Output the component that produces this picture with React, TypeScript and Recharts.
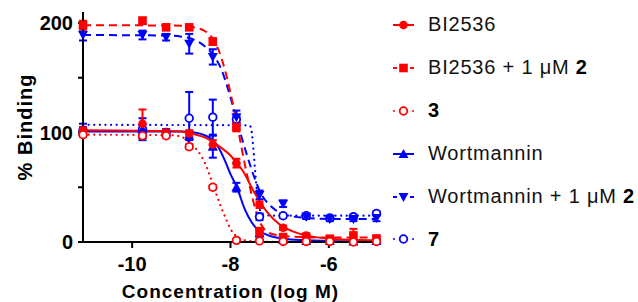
import React from 'react';
import { ComposedChart, Line, Scatter, XAxis, YAxis, ErrorBar, Label } from 'recharts';

const RED = '#FF0000';
const BLUE = '#0000FF';
const FONT = '"Liberation Sans", Arial, Helvetica, sans-serif';

// log concentrations (first point = vehicle control, drawn at the axis)
const CONC = [-11, -9.79, -9.31, -8.84, -8.36, -7.88, -7.41, -6.93, -6.46, -5.98, -5.5, -5.03];

const BI2536 = [102, 108, 100, 99, 89, 72, 34, 13, 6, 2, 1, 1];
const BI2536_ERR = [3, 13, 3, 3, 4, 4, 3, 2, 2, 1, 1, 1];
const BI2536_P2 = [198, 202, 196, 196, 183, 105, 9, 4.5, 4, 3, 6, 3];
const BI2536_P2_ERR = [4, 3, 2, 2, 3, 4, 4, 2, 2, 2, 6, 3];
const CMPD3 = [98, 97, 97, 87, 50, 1.5, 1, 0.5, 0.5, 0.5, 0, 0.5];
const CMPD3_ERR = [2, 2, 2, 2, 2, 1, 1, 0.5, 0.5, 0.5, 0, 0.5];
const WORT = [101, 103, 100, 97, 87, 50, 8, 2, 1, 1, 0.5, 1];
const WORT_ERR = [3, 10, 3, 4, 10, 4, 3, 1, 1, 1, 0.5, 1];
const WORT_P2 = [189, 189, 187, 181, 169, 114, 43, 35, 23, 21, 21, 22];
const WORT_P2_ERR = [5, 4, 3, 9, 7, 6, 4, 3, 2, 2, 2, 3];
const CMPD7 = [102, 103, 100, 113, 114, 112, 23, 24, 24, 22, 23, 26];
const CMPD7_ERR = [6, 4, 2, 24, 16, 3, 3, 2, 2, 2, 2, 2];

// fitted curves
const BI_CURVE_X = [-11, -9, -8.75, -8.5, -8.25, -8, -7.75, -7.5, -7.25, -7, -6.75, -6.5, -6, -5.5, -5];
const BI_CURVE_Y = [102, 101, 98.5, 95, 88, 79, 65, 44, 27, 16, 10, 6.5, 3, 2, 1.5];
const BI2_CURVE_X = [-11, -9, -8.75, -8.5, -8.35, -8.25, -8.1, -8, -7.9, -7.8, -7.7, -7.6, -7.5, -7.4, -7.3, -7.2, -7, -6.5, -6, -5];
const BI2_CURVE_Y = [198, 197.5, 196, 192, 185, 176, 155, 136, 115, 92, 69, 49, 31, 18, 11, 8, 6, 4.5, 4, 4];
const C3_CURVE_X = [-11, -9.2, -9, -8.85, -8.72, -8.6, -8.5, -8.4, -8.3, -8.2, -8.1, -8, -7.9, -7.75, -7.5, -7, -5];
const C3_CURVE_Y = [98, 97.5, 96, 92, 86, 79, 70, 58, 45, 33, 22, 12, 6, 2, 0.5, 0, 0];
const W_CURVE_X = [-11, -9, -8.73, -8.5, -8.36, -8.24, -8.12, -8, -7.87, -7.71, -7.57, -7.44, -7.3, -7.16, -6.9, -6.69, -6, -5];
const W_CURVE_Y = [101, 101, 100, 97, 93, 86, 75, 62, 50, 30, 18, 11, 7.5, 5, 3, 2, 1, 0.5];
const W2_CURVE_X = [-11, -9.3, -9, -8.83, -8.56, -8.34, -8.18, -8.06, -7.95, -7.85, -7.77, -7.67, -7.57, -7.5, -7.4, -7.16, -6.93, -6.48, -6, -5];
const W2_CURVE_Y = [189, 188.5, 187.5, 186, 180, 170, 157, 141, 124, 108, 95, 80, 66, 57, 46, 32, 25.5, 22, 21, 21];
const C7_CURVE_X = [-11, -7.62, -7.58, -7.56, -7.54, -7.52, -7.49, -7.46, -7.42, -7.37, -7.3, -7.1, -5];
const C7_CURVE_Y = [107, 106.5, 104, 97, 88, 77, 60, 45, 33, 26, 24.5, 24, 24];

const X_TICKS = [-10, -8, -6];
const Y_TICKS = [0, 50, 100, 150, 200];

const LEGEND_NAMES = ['BI2536', 'BI2536 + 1 μM ', '', 'Wortmannin', 'Wortmannin + 1 μM ', ''];
const LEGEND_BOLD = ['', '2', '3', '', '2', '7'];

const pts = (vals: number[], errs: number[]) => CONC.map((x, i) => ({ x, y: vals[i], e: errs[i] }));
const curve = (xs: number[], ys: number[]) => xs.map((x, i) => ({ x, y: ys[i] }));

type Marker = 'circle' | 'square' | 'open' | 'up' | 'down';

const drawMarker = (kind: Marker, color: string, cx: number, cy: number, key?: string) => {
  switch (kind) {
    case 'circle':
      return <circle key={key} cx={cx} cy={cy} r={4.3} fill={color} />;
    case 'square':
      return <rect key={key} x={cx - 4.3} y={cy - 4.3} width={8.6} height={8.6} fill={color} />;
    case 'open':
      return <circle key={key} cx={cx} cy={cy} r={3.8} fill="#fff" stroke={color} strokeWidth={1.8} />;
    case 'up':
      return <polygon key={key} points={`${cx - 5},${cy + 4} ${cx + 5},${cy + 4} ${cx},${cy - 5}`} fill={color} />;
    case 'down':
      return <polygon key={key} points={`${cx - 5},${cy - 4} ${cx + 5},${cy - 4} ${cx},${cy + 5}`} fill={color} />;
  }
};

const shapeOf = (kind: Marker, color: string) => (p: any) => drawMarker(kind, color, p.cx, p.cy);

const SERIES = [
  { name: 0, color: RED, marker: 'circle' as Marker, dash: undefined as string | undefined, data: pts(BI2536, BI2536_ERR), curve: curve(BI_CURVE_X, BI_CURVE_Y) },
  { name: 1, color: RED, marker: 'square' as Marker, dash: '8 5', data: pts(BI2536_P2, BI2536_P2_ERR), curve: curve(BI2_CURVE_X, BI2_CURVE_Y) },
  { name: 2, color: RED, marker: 'open' as Marker, dash: '0.1 5.5', data: pts(CMPD3, CMPD3_ERR), curve: curve(C3_CURVE_X, C3_CURVE_Y) },
  { name: 3, color: BLUE, marker: 'up' as Marker, dash: undefined, data: pts(WORT, WORT_ERR), curve: curve(W_CURVE_X, W_CURVE_Y) },
  { name: 4, color: BLUE, marker: 'down' as Marker, dash: '8 5', data: pts(WORT_P2, WORT_P2_ERR), curve: curve(W2_CURVE_X, W2_CURVE_Y) },
  { name: 5, color: BLUE, marker: 'open' as Marker, dash: '0.1 5.5', data: pts(CMPD7, CMPD7_ERR), curve: curve(C7_CURVE_X, C7_CURVE_Y) },
];

const DRAW_ORDER = [5, 3, 4, 0, 1, 2];

const LegendIcon = ({ s }: { s: (typeof SERIES)[number] }) => {
  const dotted = s.dash && s.dash.startsWith('0.1');
  const dashed = s.dash && !dotted;
  return (
    <svg width={26} height={14} style={{ display: 'block' }}>
      {!s.dash && <line x1={2} y1={7} x2={23} y2={7} stroke={s.color} strokeWidth={2} />}
      {dashed && (
        <>
          <line x1={2} y1={7} x2={6} y2={7} stroke={s.color} strokeWidth={2} />
          <line x1={19} y1={7} x2={23} y2={7} stroke={s.color} strokeWidth={2} />
        </>
      )}
      {dotted && (
        <>
          <circle cx={3} cy={7} r={1} fill={s.color} />
          <circle cx={22} cy={7} r={1} fill={s.color} />
        </>
      )}
      {drawMarker(s.marker, s.color, 12.5, 7)}
    </svg>
  );
};

export default function App() {
  return (
    <div style={{ position: 'relative', width: 638, height: 302, background: '#fff' }}>
      <style>{'body{margin:0;background:#fff}'}</style>
      <ComposedChart width={638} height={302} margin={{ top: 12, right: 260, bottom: 0, left: 0 }}>
        <XAxis
          type="number"
          dataKey="x"
          domain={[-11, -5]}
          ticks={X_TICKS}
          allowDuplicatedCategory={false}
          height={60}
          axisLine={{ stroke: '#000', strokeWidth: 2 }}
          tickLine={{ stroke: '#000', strokeWidth: 2 }}
          tickSize={6}
          tickMargin={9}
          tick={{ fill: '#000', fontSize: 20, fontWeight: 'bold', fontFamily: FONT }}
        >
          <Label
            value="Concentration (log M)"
            position="insideBottom"
            offset={4}
            fill="#000"
            fontSize={19}
            fontWeight="bold"
            fontFamily={FONT}
            letterSpacing={1}
          />
        </XAxis>
        <YAxis
          type="number"
          dataKey="y"
          domain={[0, 210]}
          ticks={Y_TICKS}
          width={83}
          axisLine={{ stroke: '#000', strokeWidth: 2 }}
          tickLine={{ stroke: '#000', strokeWidth: 2 }}
          tickSize={5}
          tickMargin={5}
          tickFormatter={(v: number) => (v % 100 === 0 ? String(v) : '')}
          tick={{ fill: '#000', fontSize: 20, fontWeight: 'bold', fontFamily: FONT }}
        >
          <Label
            content={(props: any) => {
              const vb = props.viewBox || { x: 0, y: 12, width: 83, height: 230 };
              const cx = vb.x + 32;
              const cy = vb.y + vb.height / 2;
              return (
                <text
                  x={cx}
                  y={cy}
                  transform={`rotate(-90 ${cx} ${cy})`}
                  textAnchor="middle"
                  fill="#000"
                  fontSize={20}
                  fontWeight="bold"
                  fontFamily={FONT}
                  letterSpacing={1}
                >
                  % Binding
                </text>
              );
            }}
          />
        </YAxis>
        {DRAW_ORDER.map((i) => {
          const s = SERIES[i];
          return (
            <Line
              key={`c${i}`}
              data={s.curve}
              dataKey="y"
              type="monotone"
              stroke={s.color}
              strokeWidth={s.dash && s.dash.startsWith('0.1') ? 2.2 : 2}
              strokeDasharray={s.dash}
              strokeLinecap={s.dash && s.dash.startsWith('0.1') ? 'round' : 'butt'}
              dot={false}
              activeDot={false}
              isAnimationActive={false}
            />
          );
        })}
        {DRAW_ORDER.map((i) => {
          const s = SERIES[i];
          return (
            <Scatter
              key={`s${i}`}
              data={s.data}
              dataKey="y"
              fill={s.color}
              shape={shapeOf(s.marker, s.color)}
              isAnimationActive={false}
            >
              <ErrorBar dataKey="e" direction="y" width={4} stroke={s.color} strokeWidth={2} isAnimationActive={false} />
            </Scatter>
          );
        })}
      </ComposedChart>
      <div style={{ position: 'absolute', left: 391, top: 3.5, fontFamily: FONT, fontSize: 20, color: '#111' }}>
        {SERIES.map((s, i) => (
          <div key={i} style={{ height: 42.9, display: 'flex', alignItems: 'center', whiteSpace: 'nowrap' }}>
            <LegendIcon s={s} />
            <span style={{ marginLeft: 11, letterSpacing: 0.8 }}>
              {LEGEND_NAMES[i]}
              {LEGEND_BOLD[i] && <b style={{ color: '#000' }}>{LEGEND_BOLD[i]}</b>}
            </span>
          </div>
        ))}
      </div>
    </div>
  );
}
